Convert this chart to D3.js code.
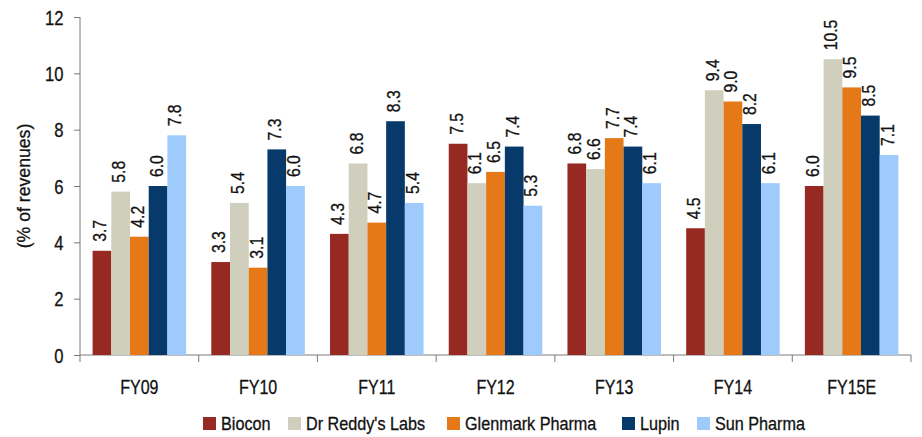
<!DOCTYPE html>
<html>
<head>
<meta charset="utf-8">
<script src="https://cdn.jsdelivr.net/npm/d3@7"></script>
<style>
  html, body { margin: 0; padding: 0; background: #fff; }
  svg text { font-family: "Liberation Sans", Arial, sans-serif; fill: #111; stroke: #111; stroke-width: 0.3px; }
</style>
</head>
<body>
<svg id="chart" width="922" height="437"></svg>
<script>
// R&D spend as a share of revenues, by company and fiscal year
const years = ["FY09", "FY10", "FY11", "FY12", "FY13", "FY14", "FY15E"];
const companies = ["Biocon", "Dr Reddy's Labs", "Glenmark Pharma", "Lupin", "Sun Pharma"];
const biocon    = [3.7, 3.3, 4.3, 7.5, 6.8, 4.5, 6.0];
const drReddys  = [5.8, 5.4, 6.8, 6.1, 6.6, 9.4, 10.5];
const glenmark  = [4.2, 3.1, 4.7, 6.5, 7.7, 9.0, 9.5];
const lupin     = [6.0, 7.3, 8.3, 7.4, 7.4, 8.2, 8.5];
const sunPharma = [7.8, 6.0, 5.4, 5.3, 6.1, 6.1, 7.1];
const yTicks = [0, 2, 4, 6, 8, 10, 12];
const colors = ["#962A22", "#D0CEBC", "#E57817", "#073A6B", "#9ECAFC"];

const seriesValues = [biocon, drReddys, glenmark, lupin, sunPharma];

const svg = d3.select("#chart");
const plot = { left: 80, right: 911, top: 17, bottom: 355 };
const axisColor = "#7a7a7a";

// narrow text: regular sans squeezed horizontally
function narrowText(sel, x, y, size, sx, rotate) {
  const rot = rotate ? ` rotate(${rotate})` : "";
  return sel.attr("x", 0).attr("y", 0)
    .attr("font-size", size)
    .attr("transform", (d, i) => {
      const xx = typeof x === "function" ? x(d, i) : x;
      const yy = typeof y === "function" ? y(d, i) : y;
      return `translate(${xx},${yy})${rot} scale(${sx},1)`;
    });
}

const x = d3.scaleBand().domain(years).range([plot.left, plot.right]).padding(0);
const groupPad = 12.6;
const xs = d3.scaleBand().domain(companies)
  .range([groupPad, x.bandwidth() - groupPad]).padding(0);
const y = d3.scaleLinear().domain([0, 12]).range([plot.bottom, plot.top]);

// y axis
const yAxis = svg.append("g")
  .attr("transform", `translate(${plot.left},0)`)
  .call(d3.axisLeft(y).tickValues(yTicks).tickSize(6).tickFormat(d3.format("d")));
yAxis.select(".domain").attr("stroke", axisColor).attr("d", `M0,${plot.top}V${plot.bottom + 7}`);
yAxis.selectAll(".tick line").attr("stroke", axisColor);
yAxis.selectAll(".tick text")
  .attr("dy", null)
  .attr("text-anchor", "end")
  .call(narrowText, -16.5, 7, 20, 0.83)
  .attr("fill", "#111");

// x axis with boundary ticks between categories
const xAxisG = svg.append("g").attr("transform", `translate(0,${plot.bottom})`);
xAxisG.append("line").attr("x1", plot.left).attr("x2", plot.right).attr("stroke", axisColor);
const bounds = years.map(d => x(d) + x.bandwidth());
xAxisG.selectAll("line.bt").data(bounds).join("line")
  .attr("class", "bt")
  .attr("x1", d => d).attr("x2", d => d).attr("y1", 0).attr("y2", 7)
  .attr("stroke", axisColor);
xAxisG.selectAll("text.xl").data(years).join("text")
  .attr("class", "xl")
  .attr("text-anchor", "middle")
  .call(narrowText, d => x(d) + x.bandwidth() / 2, 38.5, 20, 0.8)
  .text(d => d);

// y axis title
svg.append("text")
  .attr("text-anchor", "middle")
  .call(narrowText, 30, (plot.top + plot.bottom) / 2, 19, 0.93, -90)
  .text("(% of revenues)");

// bars
const groups = svg.append("g").selectAll("g").data(years).join("g")
  .attr("transform", d => `translate(${x(d)},0)`);

const rows = (d, i) => companies.map((c, k) => ({ c, k, v: seriesValues[k][i] }));

groups.selectAll("rect").data(rows).join("rect")
  .attr("x", d => xs(d.c))
  .attr("width", xs.bandwidth())
  .attr("y", d => y(d.v))
  .attr("height", d => y(0) - y(d.v))
  .attr("fill", d => colors[d.k]);

// value labels, reading upward above each bar
groups.selectAll("text.val").data(rows).join("text")
  .attr("class", "val")
  .call(narrowText, d => xs(d.c) + xs.bandwidth() / 2 + 4.5, d => y(d.v) - 9, 17.5, 0.9, -90)
  .text(d => d3.format(".1f")(d.v));

// legend
const legendX = [203, 288, 447, 622, 697];
const legend = svg.append("g").selectAll("g").data(companies).join("g")
  .attr("transform", (d, i) => `translate(${legendX[i]},417)`);
legend.append("rect").attr("width", 13).attr("height", 13).attr("fill", (d, i) => colors[i]);
legend.append("text").call(narrowText, 18, 13, 18, 0.9).text(d => d);
</script>
</body>
</html>
